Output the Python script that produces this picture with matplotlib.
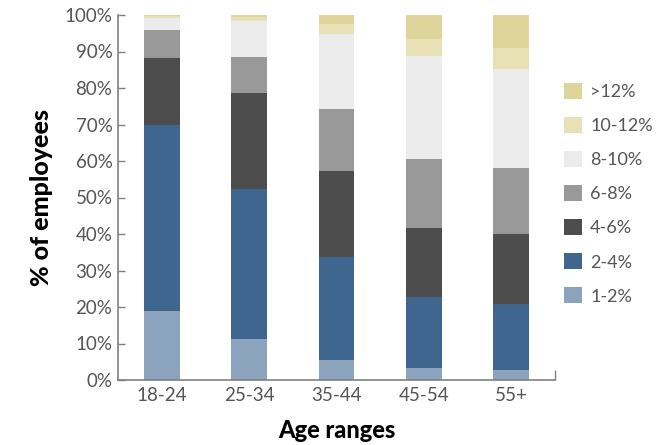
import numpy as np
import matplotlib.pyplot as plt

age_ranges = ["18-24", "25-34", "35-44", "45-54", "55+"]
bands = ["1-2%", "2-4%", "4-6%", "6-8%", "8-10%", "10-12%", ">12%"]

# share of employees (%) in each band, per age range
band_1_2 = [19.0, 11.2, 5.5, 3.3, 2.7]
band_2_4 = [51.0, 41.1, 28.2, 19.4, 18.1]
band_4_6 = [18.2, 26.3, 23.6, 18.9, 19.2]
band_6_8 = [7.7, 9.9, 16.9, 18.9, 18.1]
band_8_10 = [3.3, 9.9, 20.6, 28.3, 27.1]
band_10_12 = [0.5, 1.1, 2.7, 4.6, 5.8]
band_12_up = [0.3, 0.5, 2.5, 6.6, 9.0]

colors = ["#8CA3BE", "#3F668F", "#4D4D4D", "#999999", "#ECECEC", "#E8E1B6", "#DFD49A"]

series = [band_1_2, band_2_4, band_4_6, band_6_8, band_8_10, band_10_12, band_12_up]

plt.rcParams['font.family'] = ['Lato', 'DejaVu Sans']

fig = plt.figure(figsize=(6.69, 4.45), dpi=100)
ax = fig.add_axes([118 / 669, 65 / 445, 437 / 669, 365 / 445])

x = np.arange(len(age_ranges))
bottom = np.zeros(len(age_ranges))
handles = []
for vals, col, lab in zip(series, colors, bands):
    b = ax.bar(x, vals, width=0.41, bottom=bottom, color=col, label=lab)
    handles.append(b)
    bottom += np.array(vals)

ax.set_xlim(-0.5, 4.5)
ax.set_ylim(0, 100)
ax.set_yticks(range(0, 101, 10))
ax.set_yticklabels([f"{v}%" for v in range(0, 101, 10)])
ax.set_xticks(x)
ax.set_xticklabels(age_ranges)
ax.set_xticks([4.5], minor=True)

for s in ["top", "right"]:
    ax.spines[s].set_visible(False)
for s in ["left", "bottom"]:
    ax.spines[s].set_color("#808080")
    ax.spines[s].set_linewidth(1.2)

ax.tick_params(axis="y", direction="in", length=5, width=1, color="#808080",
               labelsize=13.5, labelcolor="#555555", pad=4)
ax.tick_params(axis="x", which="major", length=0, labelsize=13.5, labelcolor="#555555", pad=5)
ax.tick_params(axis="x", which="minor", direction="in", length=7, width=1, color="#808080")

ax.set_ylabel("% of employees", fontsize=18, fontweight="black", color="black", labelpad=8)
ax.set_xlabel("Age ranges", fontsize=17, fontweight="black", color="black", labelpad=11)

leg = fig.legend(handles[::-1], bands[::-1], loc="upper left",
                 bbox_to_anchor=(564 / 669, 1 - 83 / 445), bbox_transform=fig.transFigure,
                 frameon=False, fontsize=13, handlelength=1.0, handleheight=1.0,
                 labelspacing=0.93, handletextpad=0.45, borderpad=0, borderaxespad=0)
for t in leg.get_texts():
    t.set_color("#555555")

fig.savefig("out.png", dpi=100)
